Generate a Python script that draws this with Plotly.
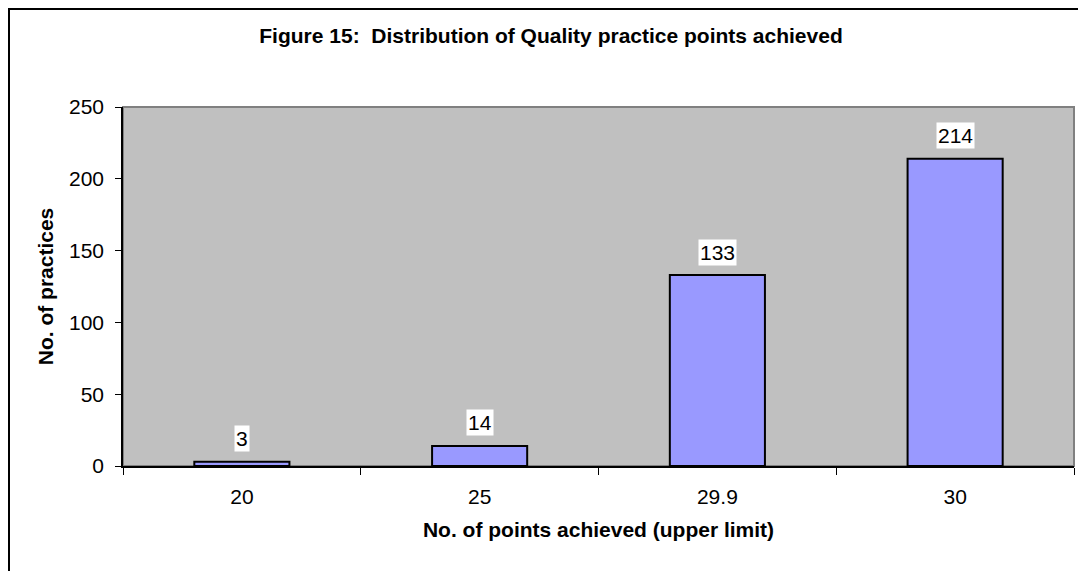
import plotly.graph_objects as go

categories = ["20", "25", "29.9", "30"]
practices = [3, 14, 133, 214]

FONT = "Arial, Liberation Sans, sans-serif"
FS = 21
# page body has an 8px margin, so the figure is 8px smaller than the window
W, H = 1078, 563
L, R, T, B = 115, 12, 99, 105
pw, ph = W - L - R, H - T - B

def px2paper_x(px):
    return (px - L) / pw

def py2paper_y(py):
    return (H - B - py) / ph

fig = go.Figure()
fig.add_trace(go.Bar(
    x=list(range(len(categories))), y=practices,
    width=0.4,
    marker=dict(color="#9999FF", line=dict(color="black", width=2)),
    hovertext=categories, hoverinfo="text+y",
))

for i, v in enumerate(practices):
    fig.add_annotation(
        x=i, y=v, xref="x", yref="y", text=str(v), showarrow=False,
        yshift=23, yanchor="middle", bgcolor="white", borderpad=1,
        font=dict(family=FONT, size=FS, color="black"),
    )

# plot area border (gray)
fig.add_shape(type="rect", xref="paper", yref="paper", x0=0, x1=1, y0=0, y1=1,
              line=dict(color="#808080", width=2), layer="below")
# outer chart border
fig.add_shape(type="rect", xref="paper", yref="paper",
              x0=px2paper_x(1), x1=px2paper_x(1090), y0=py2paper_y(580), y1=py2paper_y(1),
              line=dict(color="black", width=2), fillcolor="rgba(0,0,0,0)")

n = len(categories)
fig.update_layout(
    width=W, height=H,
    margin=dict(l=L, r=R, t=T, b=B, autoexpand=False),
    paper_bgcolor="white",
    plot_bgcolor="#C0C0C0",
    showlegend=False,
    font=dict(family=FONT, size=FS, color="black"),
    title=dict(
        text="<b>Figure 15:  Distribution of Quality practice points achieved</b>",
        x=543 / W, xanchor="center", y=1 - 28 / H, yanchor="middle", yref="container",
        font=dict(family=FONT, size=FS, color="black"),
    ),
    xaxis=dict(
        range=[-0.5, n - 0.5], tickmode="array", tickvals=list(range(n)),
        ticktext=categories, ticks="", showline=True, linecolor="black",
        linewidth=1.5, showgrid=False, zeroline=False, ticklabelstandoff=11,
        tickangle=0, automargin=False,
        minor=dict(tickmode="array", tickvals=[i + 0.5 for i in range(-1, n)],
                   ticks="outside", ticklen=7, tickcolor="black", showgrid=False),
        tickfont=dict(family=FONT, size=FS),
        title=dict(text="<b>No. of points achieved (upper limit)</b>", standoff=15,
                   font=dict(family=FONT, size=FS)),
    ),
    yaxis=dict(
        range=[0, 250], dtick=50, ticks="outside", ticklen=6, tickcolor="black",
        showline=True, linecolor="black", linewidth=1.5, showgrid=False,
        zeroline=False, ticklabelstandoff=7, automargin=False,
        tickfont=dict(family=FONT, size=FS),
        title=dict(text="<b>No. of practices</b>", standoff=10,
                   font=dict(family=FONT, size=FS)),
    ),
)

fig.write_html("out.html")
